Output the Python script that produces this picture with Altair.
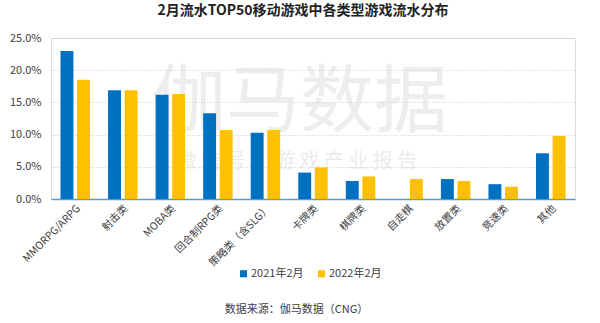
import altair as alt
import pandas as pd

categories = ["MMORPG/ARPG", "射击类", "MOBA类", "回合制RPG类", "策略类（含SLG）",
              "卡牌类", "棋牌类", "自走棋", "放置类", "竞速类", "其他"]
series_names = ["2021年2月", "2022年2月"]
values_2021 = [23.0, 16.9, 16.2, 13.3, 10.3, 4.1, 2.8, 0.0, 3.1, 2.3, 7.1]
values_2022 = [18.5, 16.9, 16.3, 10.7, 10.7, 4.9, 3.5, 3.1, 2.8, 1.9, 9.8]
y_ticks = [0, 0.05, 0.10, 0.15, 0.20, 0.25]
colors = ["#0070C0", "#FFC000"]
watermark_big = ["伽马数据"]
watermark_small = ["微 信 号 ： 游 戏 产 业 报 告"]

rows = []
for c, a, b in zip(categories, values_2021, values_2022):
    rows.append({"cat": c, "series": series_names[0], "value": a / 100})
    rows.append({"cat": c, "series": series_names[1], "value": b / 100})
df = pd.DataFrame(rows)

FONT = "Noto Sans CJK SC"

wm1 = alt.Chart(pd.DataFrame({"t": watermark_big})).mark_text(
    font=FONT, fontSize=74, color="#d9d9d9", opacity=0.45, align="center", baseline="middle"
).encode(text="t:N", x=alt.value(249), y=alt.value(66))

wm2 = alt.Chart(pd.DataFrame({"t": watermark_small})).mark_text(
    font=FONT, fontSize=20, color="#d9d9d9", opacity=0.5, align="center", baseline="middle"
).encode(text="t:N", x=alt.value(246), y=alt.value(124))

bars = alt.Chart(df).mark_bar().encode(
    x=alt.X("cat:N", sort=categories,
            scale=alt.Scale(paddingInner=0.38),
            axis=alt.Axis(title="数据来源：伽马数据（CNG）", titleFontSize=11, titleFontWeight="normal",
                          titleColor="#404040", titleFont=FONT, titleX=245, titleY=104,
                          titleAlign="center",
                          labelAngle=-45, labelFontSize=10.5, labelColor="#404040", labelFont=FONT,
                          labelPadding=4, ticks=False, domainColor="#5B9BD5", domainWidth=1.5,
                          labelOverlap=False)),
    xOffset=alt.XOffset("series:N", sort=series_names,
                        scale=alt.Scale(paddingInner=0.22, paddingOuter=0.0)),
    y=alt.Y("value:Q", scale=alt.Scale(domain=[0, 0.25]),
            axis=alt.Axis(title=None, values=y_ticks, format=".1%", labelFontSize=11,
                          labelColor="#404040", labelFont=FONT, labelPadding=10,
                          ticks=False, domain=False, gridColor="#c8c8c8", gridDash=[1, 2],
                          gridWidth=1)),
    color=alt.Color("series:N", sort=series_names,
                    scale=alt.Scale(domain=series_names, range=colors),
                    legend=alt.Legend(title=None, orient="none", legendX=187, legendY=230,
                                      direction="horizontal", symbolType="square",
                                      symbolSize=50, labelFontSize=11, labelColor="#404040",
                                      labelFont=FONT, columnPadding=12, symbolOffset=0,
                                      labelOffset=2)),
)

chart = alt.layer(wm1, wm2, bars).properties(
    width=524, height=161,
    autosize=alt.AutoSizeParams(type="none"),
    padding={"left": 51, "top": 38, "right": 25, "bottom": 124},
    title=alt.TitleParams("2月流水TOP50移动游戏中各类型游戏流水分布", font=FONT, fontSize=14,
                          fontWeight="bold", color="#222222", anchor="middle", offset=14, dx=-10),
).configure_view(stroke=None).configure(background="white")

chart.save("out.html", embed_options={"renderer": "svg", "actions": False})
